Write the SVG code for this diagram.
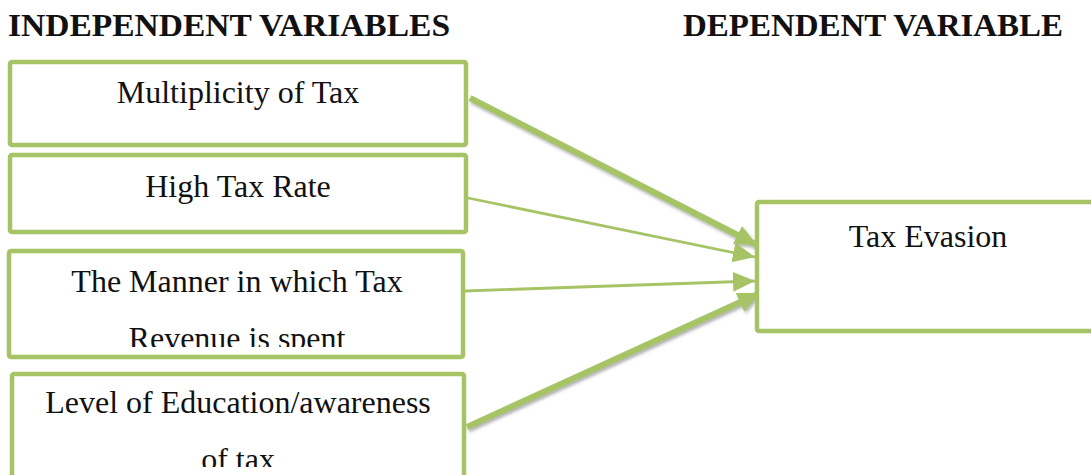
<svg xmlns="http://www.w3.org/2000/svg" width="1091" height="475" viewBox="0 0 1091 475">
<style>
.box{fill:#fff;stroke:#A6C466;stroke-width:4.5;stroke-linejoin:round}
.t{font-family:"Liberation Serif","Times New Roman",serif;font-size:32px;fill:#111;text-anchor:middle}
.h{font-family:"Liberation Serif","Times New Roman",serif;font-size:32px;font-weight:bold;fill:#111}
.thick{stroke:#A6C466;stroke-width:6;fill:none}
.thin{stroke:#A6C466;stroke-width:2.8;fill:none}
</style>
<defs>
<filter id="sh" x="-10%" y="-10%" width="120%" height="130%">
<feDropShadow dx="1.5" dy="2.5" stdDeviation="1.5" flood-color="#555" flood-opacity="0.45"/>
</filter>
<marker id="ah" markerUnits="userSpaceOnUse" markerWidth="26" markerHeight="22" refX="22" refY="10" orient="auto">
<path d="M0,0 L22,10 L0,20 Z" fill="#A6C466"/>
</marker>
<clipPath id="c3"><rect x="0" y="240" width="480" height="107"/></clipPath>
<clipPath id="c4"><rect x="0" y="370" width="480" height="97"/></clipPath>
</defs>
<text class="h" x="8" y="36" textLength="442" lengthAdjust="spacingAndGlyphs">INDEPENDENT VARIABLES</text>
<text class="h" x="683" y="36" textLength="380" lengthAdjust="spacingAndGlyphs">DEPENDENT VARIABLE</text>
<g id="connectors">
<line class="thick" x1="470" y1="98" x2="757" y2="245" marker-end="url(#ah)" filter="url(#sh)"/>
<line class="thin" x1="468" y1="198" x2="755" y2="257" marker-end="url(#ah)"/>
<line class="thin" x1="465" y1="291" x2="755" y2="281" marker-end="url(#ah)"/>
<line class="thick" x1="467" y1="427" x2="760" y2="293" marker-end="url(#ah)" filter="url(#sh)"/>
</g>
<g id="n1">
<rect class="box" x="10" y="62" width="456" height="83" rx="2"/>
<text class="t" x="238" y="103">Multiplicity of Tax</text>
</g>
<g id="n2">
<rect class="box" x="10" y="155" width="456" height="77" rx="2"/>
<text class="t" x="238" y="197">High Tax Rate</text>
</g>
<g id="n3">
<rect class="box" x="9" y="251" width="454" height="106" rx="2"/>
<g clip-path="url(#c3)">
<text class="t" x="237" y="292">The Manner in which Tax</text>
<text class="t" x="237" y="349">Revenue is spent</text>
</g>
</g>
<g id="n4">
<rect class="box" x="12" y="374" width="452" height="110" rx="2"/>
<g clip-path="url(#c4)">
<text class="t" x="238" y="413">Level of Education/awareness</text>
<text class="t" x="238" y="470">of tax</text>
</g>
</g>
<g id="n5">
<rect class="box" x="757" y="202" width="345" height="129" rx="2"/>
<text class="t" x="928" y="247">Tax Evasion</text>
</g>
</svg>
